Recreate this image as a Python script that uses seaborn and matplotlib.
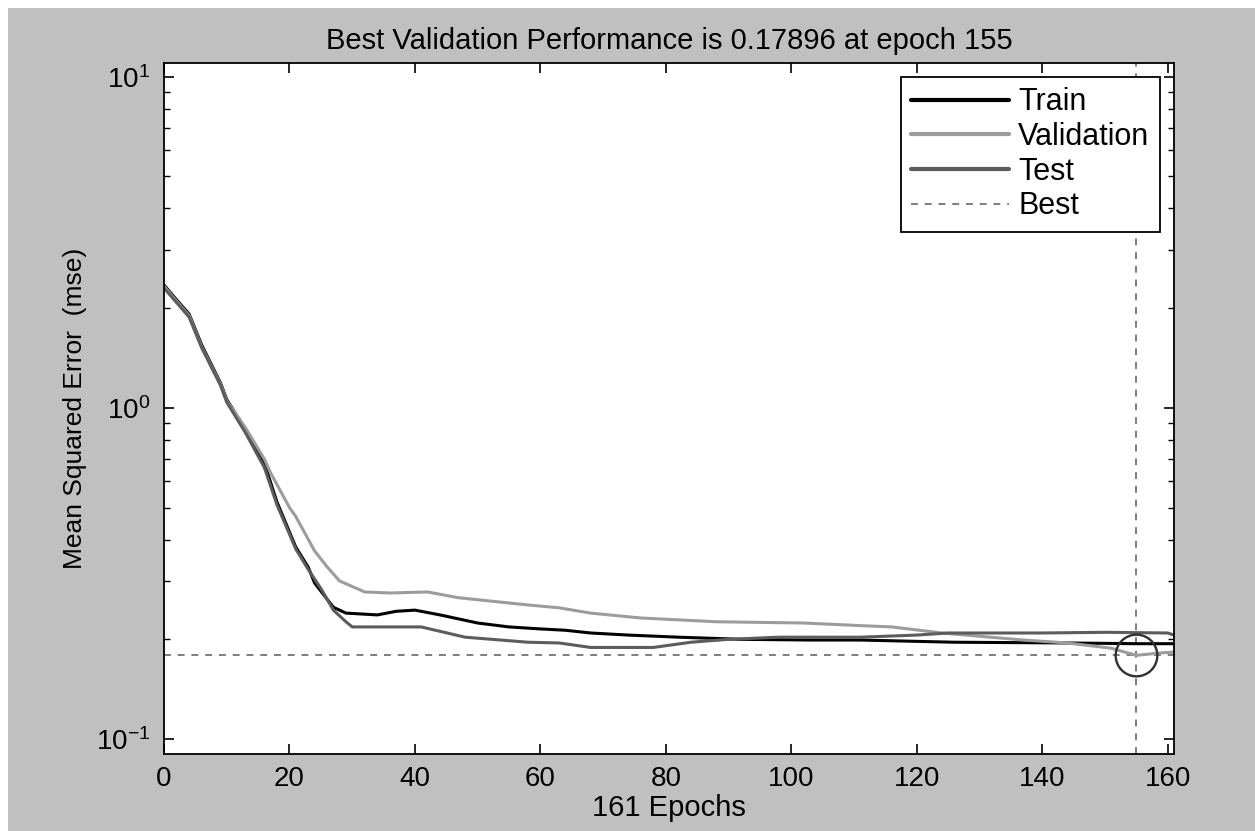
import matplotlib
matplotlib.use("Agg")
import matplotlib.pyplot as plt
from matplotlib.patches import Rectangle
from matplotlib.ticker import LogLocator, NullFormatter, FixedLocator
import numpy as np
import pandas as pd
import seaborn as sns

# ---------------- data ----------------
train_epochs = [0, 2, 4, 6, 9, 10, 13, 16, 18, 21, 23, 24, 27, 29, 34, 37, 40, 44,
                50, 55, 60, 64, 68, 74, 82, 92, 103, 111, 126, 144, 155, 161]
train_mse = [2.35, 2.12, 1.92, 1.55, 1.19, 1.06, 0.86, 0.68, 0.52, 0.38, 0.33, 0.296,
             0.25, 0.24, 0.237, 0.243, 0.245, 0.237, 0.224, 0.218, 0.215, 0.213,
             0.209, 0.206, 0.203, 0.200, 0.199, 0.199, 0.196, 0.195, 0.194, 0.194]

val_epochs = [0, 2, 4, 6, 9, 10, 13, 16, 17, 20, 21, 24, 26, 28, 32, 36, 42, 47, 52,
              58, 63, 68, 76, 88, 102, 111, 116, 124, 137, 144, 151, 155, 159, 161]
val_mse = [2.33, 2.10, 1.90, 1.53, 1.18, 1.05, 0.87, 0.70, 0.636, 0.50, 0.47, 0.37,
           0.331, 0.30, 0.278, 0.276, 0.278, 0.267, 0.261, 0.254, 0.249, 0.240,
           0.232, 0.226, 0.224, 0.220, 0.218, 0.209, 0.199, 0.195, 0.188, 0.17896,
           0.182, 0.183]

test_epochs = [0, 2, 4, 6, 9, 10, 13, 16, 18, 21, 23, 25, 27, 29, 30, 35, 41, 48, 58,
               63, 68, 78, 84, 90, 98, 111, 120, 125, 140, 150, 160, 161]
test_mse = [2.30, 2.08, 1.88, 1.52, 1.17, 1.04, 0.84, 0.66, 0.51, 0.375, 0.325, 0.285,
            0.245, 0.226, 0.218, 0.218, 0.218, 0.203, 0.196, 0.195, 0.189, 0.189,
            0.196, 0.200, 0.203, 0.203, 0.206, 0.209, 0.209, 0.210, 0.209, 0.206]

best_epoch = 155
best_perf = 0.17896
n_epochs = 161
x_ticks = [0, 20, 40, 60, 80, 100, 120, 140, 160]

series_names = ["Train", "Validation", "Test"]
series_colors = {"Train": "#000000", "Validation": "#9c9c9c", "Test": "#5c5c5c"}

df = pd.concat([
    pd.DataFrame({"epoch": train_epochs, "mse": train_mse, "set": "Train"}),
    pd.DataFrame({"epoch": val_epochs, "mse": val_mse, "set": "Validation"}),
    pd.DataFrame({"epoch": test_epochs, "mse": test_mse, "set": "Test"}),
], ignore_index=True)

# ---------------- style ----------------
sns.set_theme(style="ticks")
plt.rcParams["font.family"] = ["Liberation Sans", "DejaVu Sans"]
plt.rcParams["mathtext.default"] = "regular"
plt.rcParams["text.color"] = "black"
plt.rcParams["axes.labelcolor"] = "black"
plt.rcParams["xtick.color"] = "black"
plt.rcParams["ytick.color"] = "black"

W, H = 1255, 831
fig = plt.figure(figsize=(W / 100, H / 100), dpi=100, facecolor="white")
bg = Rectangle((8 / W, 0), 1 - 8 / W, 1 - 8 / H, transform=fig.transFigure,
               facecolor="#c0c0c0", edgecolor="none", zorder=-10)
fig.add_artist(bg)
ax = fig.add_axes([164 / W, 1 - 754 / H, 1010 / W, 691 / H])
ax.set_zorder(1)
ax.set_facecolor("white")

for name in series_names:
    sns.lineplot(data=df[df["set"] == name], x="epoch", y="mse", ax=ax,
                 color=series_colors[name], linewidth=2.2, label=name,
                 estimator=None, sort=True)

ax.axhline(best_perf, color="#5a5a5a", linewidth=1.1, linestyle=(0, (4.5, 4.5)),
           label="Best", zorder=1)
ax.axvline(best_epoch, color="#5a5a5a", linewidth=1.1, linestyle=(0, (4.5, 4.5)),
           zorder=1)
ax.plot([best_epoch], [best_perf], marker="o", markersize=30, markerfacecolor="none",
        markeredgecolor="#303030", markeredgewidth=1.7, linestyle="none",
        label="_nolegend_", zorder=5)

ax.set_yscale("log")
ax.set_xlim(0, n_epochs)
ax.set_ylim(0.0901, 11.0)
ax.xaxis.set_major_locator(FixedLocator(x_ticks))
ax.yaxis.set_major_locator(LogLocator(base=10, numticks=10))
ax.yaxis.set_minor_locator(LogLocator(base=10, subs=np.arange(2, 10), numticks=20))
ax.yaxis.set_minor_formatter(NullFormatter())

ax.tick_params(which="both", direction="in", top=True, right=True)
ax.tick_params(which="major", length=7.2, width=1.2)
ax.tick_params(which="minor", length=4.3, width=1.0)
ax.tick_params(axis="x", labelsize=20, pad=9)
ax.tick_params(axis="y", labelsize=20, pad=10)
for s in ax.spines.values():
    s.set_color("black")
    s.set_linewidth(1.3)

ax.set_title(f"Best Validation Performance is {best_perf:.5f} at epoch {best_epoch}",
             fontsize=21, pad=10)
ax.set_xlabel(f"{n_epochs} Epochs", fontsize=21)
ax.set_ylabel("Mean Squared Error  (mse)", fontsize=19)
ax.xaxis.set_label_coords(0.5, -0.058)
ax.yaxis.set_label_coords(-0.076, 0.5)

leg = ax.legend(loc="upper right", fontsize=22, frameon=True, fancybox=False,
                edgecolor="black", framealpha=1, borderpad=0.35, labelspacing=0.15,
                handlelength=3.2, handletextpad=0.3, borderaxespad=0.45)
leg.get_frame().set_linewidth(1.3)
for line in leg.get_lines():
    if line.get_label() != "Best":
        line.set_linewidth(3)

fig.savefig("out.png", dpi=100, facecolor=fig.get_facecolor())
